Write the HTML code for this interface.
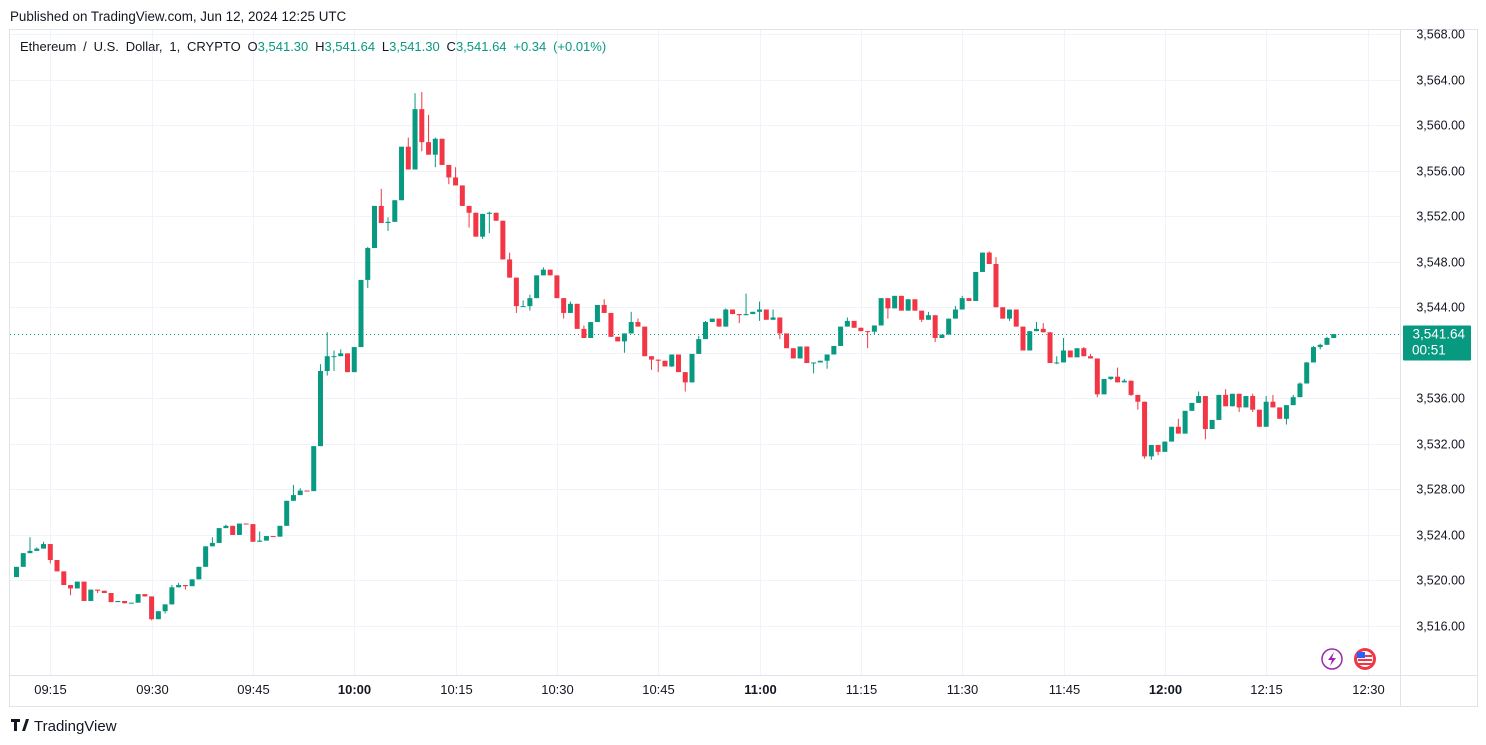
<!DOCTYPE html>
<html><head><meta charset="utf-8"><style>
body{margin:0;background:#fff;width:1486px;height:745px;overflow:hidden;font-family:"Liberation Sans",sans-serif;}
svg{position:absolute;left:0;top:0;}
</style></head><body>
<svg id="chart" width="1486" height="745">
<text x="10" y="21" font-size="13.4" fill="#131722">Published on TradingView.com, Jun 12, 2024 12:25 UTC</text>
<rect x="9.5" y="29.5" width="1468" height="677" fill="none" stroke="#e0e3eb"/>
<g id="grid"></g>
<line x1="1400.5" y1="30" x2="1400.5" y2="706" stroke="#e0e3eb"/>
<line x1="10" y1="675.5" x2="1477" y2="675.5" stroke="#e0e3eb"/>
<g id="candles"></g>
<g id="yaxis"></g>
<g id="xaxis"></g>
<text x="20" y="51" font-size="13" word-spacing="3.2" fill="#131722">Ethereum / U.S. Dollar, 1, CRYPTO <tspan>O</tspan><tspan fill="#089981">3,541.30</tspan> H<tspan fill="#089981">3,541.64</tspan> L<tspan fill="#089981">3,541.30</tspan> C<tspan fill="#089981">3,541.64</tspan> <tspan fill="#089981">+0.34 (+0.01%)</tspan></text>
<g><circle cx="1332" cy="659" r="10" fill="#fff" stroke="#9c27b0" stroke-width="1.5"/><path d="M1334 652 L1328 660 L1332 660 L1330 666 L1336 658 L1332 658 Z" fill="#9c27b0"/></g>
<g><circle cx="1365" cy="659" r="11" fill="#f23645"/><circle cx="1365" cy="659" r="8" fill="#fff"/><rect x="1358" y="655" width="14" height="2" fill="#f23645"/><rect x="1358" y="659" width="14" height="2" fill="#f23645"/><rect x="1358" y="663" width="14" height="2" fill="#f23645"/><rect x="1357" y="652" width="8" height="6" fill="#2962ff"/></g>
<g><path d="M11 719h9v3h-3v9h-3v-9h-3z M22 731l4-12h3l-4 12z" fill="#131722"/><text x="34" y="731" font-size="15" fill="#131722">TradingView</text></g>
</svg>
<script>
const closes=[3521.2,3522.4,3522.6,3522.8,3523.2,3521.8,3520.8,3519.6,3519.3,3519.9,3518.2,3519.2,3519.1,3518.9,3518.1,3518.2,3518.0,3518.05,3518.8,3518.6,
3516.6,3517.3,3517.9,3519.4,3519.6,3519.5,3520.1,3521.2,3523.0,3523.3,3524.6,3524.8,3524.0,3525.0,3524.95,3523.4,3523.5,3523.9,3523.85,3524.8,
3527.0,3527.5,3527.9,3527.85,3531.8,3538.4,3539.7,3539.7,3539.95,3538.3,3540.5,3546.4,3549.2,3552.9,3551.4,3551.5,3553.4,3558.1,3556.1,3561.4,
3558.5,3557.4,3558.8,3556.5,3555.4,3554.7,3552.9,3552.3,3550.2,3552.2,3552.3,3551.6,3548.2,3546.6,3544.1,3544.1,3544.8,3546.8,3547.3,3546.8,
3544.8,3543.5,3544.3,3542.1,3541.3,3542.7,3544.2,3543.5,3541.4,3541.0,3541.7,3542.7,3542.3,3539.7,3539.4,3539.3,3538.8,3539.85,3538.3,3537.4,
3539.9,3541.2,3542.7,3543.0,3542.3,3543.8,3543.4,3543.3,3543.4,3543.6,3543.8,3542.9,3543.1,3541.7,3540.4,3539.5,3540.55,3539.1,3539.15,3539.3,
3539.85,3540.6,3542.3,3542.8,3542.2,3541.9,3541.85,3542.4,3544.8,3543.9,3545.0,3543.7,3544.7,3543.7,3542.9,3543.3,3541.3,3541.6,3543.0,3543.8,
3544.8,3544.55,3547.1,3548.8,3547.8,3544.0,3543.0,3543.8,3542.3,3540.2,3541.9,3542.1,3541.8,3539.1,3539.15,3540.2,3539.6,3540.4,3539.7,3539.5,
3536.35,3537.7,3537.9,3537.4,3537.55,3536.3,3535.7,3530.9,3531.9,3531.3,3532.2,3533.5,3532.9,3534.9,3535.6,3536.2,3533.3,3534.1,3536.3,3535.3,
3536.4,3535.2,3536.2,3535.0,3533.5,3535.7,3535.2,3534.2,3535.4,3536.1,3537.3,3539.15,3540.5,3540.7,3541.3,3541.64];
const firstOpen=3520.3;
const highs=[[3,3523.8],[4,3522.9],[5,3523.4],[24,3519.6],[25,3519.8],[30,3523.8],[32,3524.9],[37,3524.3],[42,3528.4],[43,3528.1],[46,3539.0],[47,3541.8],[48,3540.2],[49,3540.3],[53,3549.3],[55,3554.4],[56,3551.9],[59,3558.9],[60,3562.8],[61,3562.9],[62,3560.9],[63,3558.9],[66,3556.3],[67,3553.5],[71,3552.4],[74,3548.8],[76,3544.6],[77,3545.1],[79,3547.5],[83,3544.5],[85,3542.4],[88,3544.7],[92,3543.6],[93,3543.0],[102,3541.5],[103,3542.8],[106,3543.9],[107,3543.6],[109,3545.2],[111,3544.5],[113,3543.8],[124,3543.1],[125,3542.4],[126,3542.2],[136,3543.6],[140,3544.1],[141,3545.0],[145,3548.9],[146,3548.4],[147,3543.6],[152,3542.7],[153,3542.6],[155,3539.7],[156,3541.3],[157,3540.0],[159,3540.5],[160,3539.9],[164,3538.7],[165,3537.7],[173,3534.2],[176,3536.6],[180,3536.8],[184,3536.4],[186,3536.2],[187,3536.3],[190,3536.3],[191,3537.4],[192,3539.2],[193,3540.6],[194,3540.8],[195,3541.4]];
const lows=[[6,3521.5],[9,3518.7],[13,3518.9],[21,3516.5],[23,3517.1],[26,3519.2],[47,3538.0],[48,3538.4],[53,3545.7],[56,3550.7],[61,3557.7],[63,3556.3],[65,3554.8],[68,3551.0],[70,3550.0],[71,3550.5],[75,3543.5],[77,3543.7],[82,3543.0],[91,3540.0],[95,3538.5],[96,3538.3],[98,3538.75],[100,3536.6],[108,3542.6],[111,3542.8],[114,3541.2],[119,3538.2],[121,3538.6],[127,3540.4],[128,3541.6],[130,3543.0],[135,3542.7],[137,3540.95],[148,3542.8],[155,3539.0],[161,3536.1],[163,3537.6],[166,3536.2],[167,3535.0],[168,3530.7],[169,3530.6],[170,3531.0],[177,3532.4],[182,3534.8],[184,3534.8],[189,3533.7],[194,3540.3]];
const priceTicks=[3568,3564,3560,3556,3552,3548,3544,3540,3536,3532,3528,3524,3520,3516];
const timeTicks=["09:15","09:30","09:45","10:00","10:15","10:30","10:45","11:00","11:15","11:30","11:45","12:00","12:15","12:30"];
const timeTickMinutes=[5,20,35,50,65,80,95,110,125,140,155,170,185,200];
const lastPrice=3541.64, countdown="00:51";

const NS="http://www.w3.org/2000/svg";
const yS=p=>34+(3568-p)*11.385;
const xS=i=>16.5+i*6.755;
function mk(tag,attrs,parent){const e=document.createElementNS(NS,tag);for(const k in attrs)e.setAttribute(k,attrs[k]);parent.appendChild(e);return e;}
const grid=document.getElementById('grid'),cg=document.getElementById('candles'),ya=document.getElementById('yaxis'),xa=document.getElementById('xaxis');
priceTicks.forEach(p=>{
  const y=Math.round(yS(p))+0.5;
  const l=mk('line',{x1:10,x2:1400,y1:y,y2:y,stroke:'#f0f3fa'},grid);
  
  
  const t=mk('text',{x:1465,y:y+4,'text-anchor':'end','font-size':12.5,fill:'#131722'},ya);
  t.textContent=p.toLocaleString('en-US',{minimumFractionDigits:2});
  
  
});
timeTicks.forEach((lab,k)=>{
  const x=Math.round(xS(timeTickMinutes[k]))+0.5;
  const l=mk('line',{x1:x,x2:x,y1:30,y2:675,stroke:'#f0f3fa'},grid);
  
  
  const t=mk('text',{x:x,y:694,'text-anchor':'middle','font-size':13,fill:'#131722','font-weight':(lab==='10:00'||lab==='11:00'||lab==='12:00')?'bold':'normal'},xa);
  t.textContent=lab;
  
  
});
const hMap={},lMap={};highs.forEach(([i,v])=>hMap[i]=v);lows.forEach(([i,v])=>lMap[i]=v);
let prev=firstOpen;
closes.forEach((c,i)=>{
  const o=prev;prev=c;
  const up=c>=o,col=up?'#089981':'#f23645';
  const top=Math.max(o,c),bot=Math.min(o,c);
  const h=Math.max(hMap[i+1]||top,top),lo=Math.min(lMap[i+1]||bot,bot);
  const x=xS(i);
  const g=mk('g',{},cg);
  
  
  mk('line',{x1:x,x2:x,y1:yS(h),y2:yS(lo),stroke:col,'stroke-width':1},g);
  const y1=yS(top),y2=yS(bot);
  mk('rect',{x:x-2.5,y:y1,width:5,height:Math.max(1,y2-y1),fill:col},g);
});
const ly=Math.round(yS(lastPrice))+0.5;
const dl=mk('line',{x1:10,x2:1400,y1:ly,y2:ly,stroke:'#089981','stroke-dasharray':'1 3'},grid);


const lb=mk('g',{},ya);


mk('rect',{x:1403,y:ly-9,width:68,height:35,fill:'#089981',rx:1},lb);
const t1=mk('text',{x:1465,y:ly+4,'text-anchor':'end','font-size':13.5,fill:'#fff'},lb);t1.textContent=lastPrice.toLocaleString('en-US',{minimumFractionDigits:2});
const t2=mk('text',{x:1412,y:ly+20,'font-size':13.5,fill:'#fff'},lb);t2.textContent=countdown;
</script>
</body></html>
